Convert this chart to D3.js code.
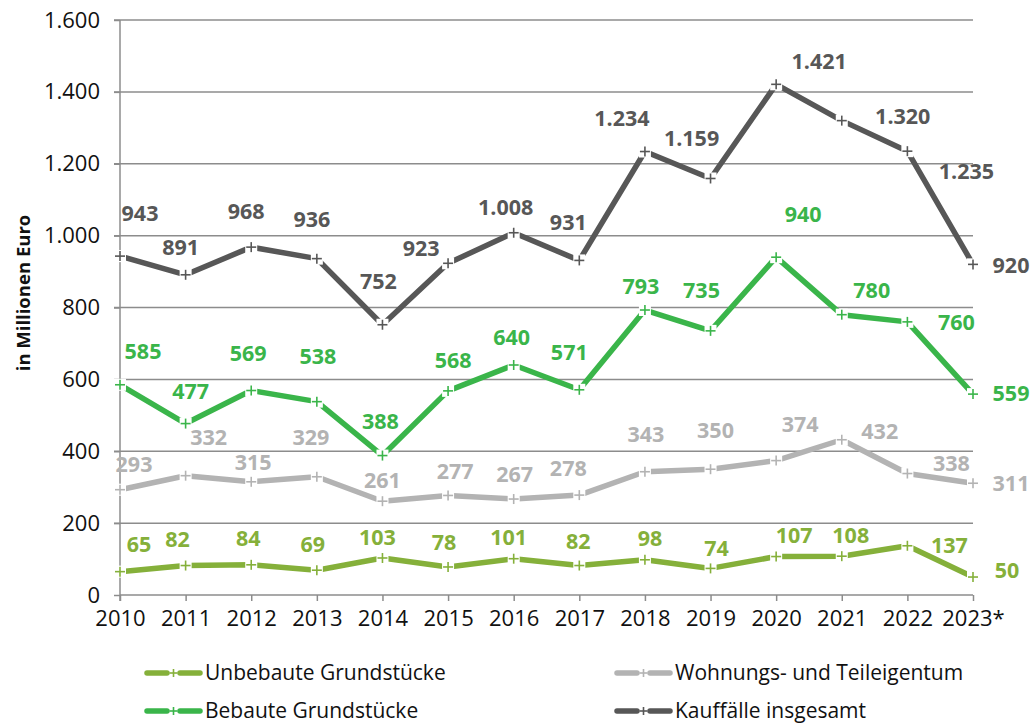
<!DOCTYPE html>
<html><head><meta charset="utf-8">
<script src="https://cdn.jsdelivr.net/npm/d3@7"></script>
<style>body{margin:0;background:#fff;} svg{display:block;font-family:"Open Sans",sans-serif;}</style>
</head><body>
<svg id="c" width="1034" height="724"></svg>
<script>
const years = ["2010","2011","2012","2013","2014","2015","2016","2017","2018","2019","2020","2021","2022","2023*"];
const yTicks = [0,200,400,600,800,1000,1200,1400,1600];
const seriesNames = ["Unbebaute Grundstücke","Bebaute Grundstücke","Wohnungs- und Teileigentum","Kauffälle insgesamt"];
const unbebaute = [65,82,84,69,103,78,101,82,98,74,107,108,137,50];
const bebaute = [585,477,569,538,388,568,640,571,793,735,940,780,760,559];
const wohnungen = [293,332,315,329,261,277,267,278,343,350,374,432,338,311];
const insgesamt = [943,891,968,936,752,923,1008,931,1234,1159,1421,1320,1235,920];

// label offsets (px, text centre relative to point) — layout only
const offUnbebaute = [[19,-27],[-8,-26],[-3,-26],[-4,-26],[-5,-21],[-4,-24],[-5,-21],[-1,-24],[5,-21],[6,-20],[18,-21],[9,-21],[42,0],[34,-7]];
const offBebaute = [[23,-33],[5,-32],[-3,-37],[1,-45],[-2,-34],[5,-30],[-2,-28],[-10,-37],[-4,-24],[-9,-40],[27,-43],[30,-24],[49,1],[38,-1]];
const offWohnungen = [[14,-25],[23,-38],[2,-19],[-6,-39],[0,-21],[7,-24],[1,-25],[-11,-27],[1,-37],[5,-39],[24,-36],[38,-8],[44,-10],[38,0]];
const offInsgesamt = [[20,-43],[-5,-27],[-5,-36],[-5,-39],[-4,-43],[-27,-15],[-8,-25],[-11,-38],[-23,-33],[-19,-40],[43,-23],[61,-4],[59,20],[38,1]];

const colors = ["#85b03a","#3ab54a","#b3b3b3","#575757"];
const series = [
  {name:seriesNames[0], values:unbebaute, off:offUnbebaute, color:colors[0]},
  {name:seriesNames[1], values:bebaute, off:offBebaute, color:colors[1]},
  {name:seriesNames[2], values:wohnungen, off:offWohnungen, color:colors[2]},
  {name:seriesNames[3], values:insgesamt, off:offInsgesamt, color:colors[3]}
];

const svg = d3.select("#c");
const x = d3.scalePoint().domain(years).range([120, 973]);
const y = d3.scaleLinear().domain([0,1600]).range([595, 20]);
const grid = "#8c8c8c";
const fmt = v => d3.format(",")(v).replace(/,/g, ".");

// gridlines
svg.append("g").selectAll("line").data(yTicks.filter(d=>d>0)).join("line")
  .attr("x1",114).attr("x2",973).attr("y1",d=>y(d)).attr("y2",d=>y(d))
  .attr("stroke",grid).attr("stroke-width",1.5);

// y axis
const yAxis = svg.append("g").attr("transform","translate(120,0)")
  .call(d3.axisLeft(y).tickValues(yTicks).tickSize(6).tickPadding(14).tickFormat(fmt));
yAxis.attr("font-size",null).attr("font-family",null);
yAxis.select(".domain").attr("stroke",grid).attr("stroke-width",1.5).attr("d","M0,20V601");
yAxis.selectAll(".tick line").attr("stroke",grid).attr("stroke-width",1.5);
yAxis.selectAll(".tick text").style("font-size","22px").attr("fill","#111").style("font-family","Open Sans");

// x axis
const xAxis = svg.append("g").attr("transform","translate(0,595)")
  .call(d3.axisBottom(x).tickSize(6).tickPadding(9));
xAxis.attr("font-size",null).attr("font-family",null);
xAxis.select(".domain").attr("stroke",grid).attr("stroke-width",1.5).attr("d","M120,0H973");
xAxis.selectAll(".tick line").attr("stroke",grid).attr("stroke-width",1.5);
xAxis.selectAll(".tick text").style("font-size","22px").attr("fill","#111").style("font-family","Open Sans");

// y title
svg.append("text").attr("transform","translate(30,293) rotate(-90)")
  .attr("text-anchor","middle").style("font-size","18.5px").attr("font-weight","bold").attr("fill","#111")
  .text("in Millionen Euro");

// lines
const line = d3.line().x((d,i)=>x(years[i])).y(d=>y(d));
const plus = (g, s) => {
  g.append("line").attr("x1",-5).attr("x2",5).attr("stroke",s).attr("stroke-width",1.6);
  g.append("line").attr("y1",-5).attr("y2",5).attr("stroke",s).attr("stroke-width",1.6);
};
series.forEach(s=>{
  svg.append("path").datum(s.values).attr("d",line).attr("fill","none")
    .attr("stroke",s.color).attr("stroke-width",5.5).attr("stroke-linejoin","round");
});
series.forEach(s=>{
  const g = svg.append("g");
  s.values.forEach((v,i)=>{
    const m = g.append("g").attr("transform",`translate(${x(years[i])},${y(v)})`);
    m.append("rect").attr("x",-6).attr("y",-6).attr("width",12).attr("height",12).attr("fill","#fff");
    plus(m, s.color);
  });
});
// labels
series.forEach(s=>{
  svg.append("g").selectAll("text").data(s.values).join("text")
    .attr("x",(d,i)=>x(years[i])+s.off[i][0]).attr("y",(d,i)=>y(d)+s.off[i][1])
    .attr("text-anchor","middle").attr("dy","0.35em")
    .style("font-size","21.5px").attr("font-weight","bold").attr("fill",s.color)
    .text(d=>fmt(d));
});

// legend
const legPos = [[145,673],[145,711],[615,673],[615,711]];
series.forEach((s,i)=>{
  const g = svg.append("g").attr("transform",`translate(${legPos[i][0]},${legPos[i][1]})`);
  g.append("line").attr("x1",2).attr("x2",22).attr("stroke",s.color).attr("stroke-width",5.5).attr("stroke-linecap","round");
  g.append("line").attr("x1",35).attr("x2",55).attr("stroke",s.color).attr("stroke-width",5.5).attr("stroke-linecap","round");
  const m = g.append("g").attr("transform","translate(28.5,0)");
  m.append("line").attr("x1",-4).attr("x2",4).attr("stroke",s.color).attr("stroke-width",1.6);
  m.append("line").attr("y1",-4).attr("y2",4).attr("stroke",s.color).attr("stroke-width",1.6);
  g.append("text").attr("x",60).attr("dy","0.35em").style("font-size","21px").attr("fill","#111").text(s.name);
});
</script>
</body></html>
